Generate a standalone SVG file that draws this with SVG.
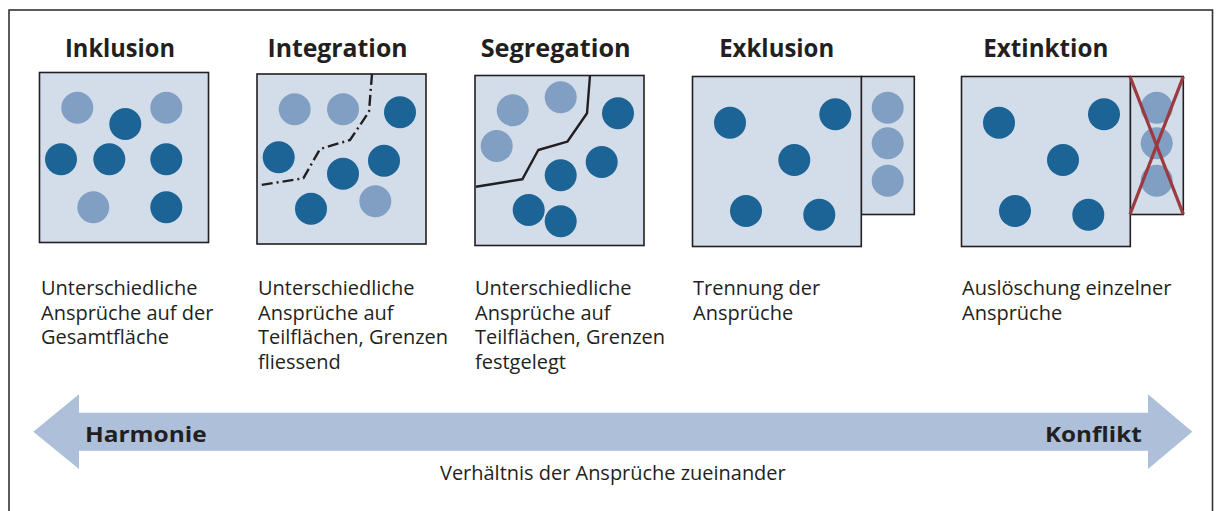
<svg xmlns="http://www.w3.org/2000/svg" width="1219" height="511" viewBox="0 0 1219 511">
<style>
.bg{fill:#ffffff}
.frame{fill:none;stroke:#333333;stroke-width:1.6}
.box{fill:#d3ddea;stroke:#231f20;stroke-width:1.6}
.d{fill:#1c6396}
.l{fill:#819fc3}
.title{font-family:"Open Sans","Noto Sans","Liberation Sans",sans-serif;font-weight:bold;font-size:25px;fill:#231f20;text-anchor:middle}
.desc{font-family:"Open Sans","Noto Sans","Liberation Sans",sans-serif;font-size:20px;fill:#231f20}
.lbl{font-family:"Open Sans","Noto Sans","Liberation Sans",sans-serif;font-weight:bold;font-size:22px;fill:#231f20}
.border{fill:none;stroke:#231f20;stroke-width:2.4;stroke-linejoin:round}
.dashdot{stroke-dasharray:11 4 2 4}
.cross{stroke:#9b3b40;stroke-width:3.2}
.arrow{fill:#adbfd9}
</style>
<rect class="bg" x="0" y="0" width="1219" height="511"/>
<rect class="frame" x="9" y="10" width="1203.5" height="520"/>

<g id="inklusion">
<text class="title" x="120" y="57" textLength="110" lengthAdjust="spacingAndGlyphs">Inklusion</text>
<rect class="box" x="39.5" y="72.5" width="169" height="170"/>
<circle class="l" cx="77.3" cy="107.7" r="16"/>
<circle class="l" cx="166.3" cy="107.7" r="16"/>
<circle class="d" cx="125.3" cy="124" r="16"/>
<circle class="d" cx="61" cy="159.3" r="16"/>
<circle class="d" cx="109.3" cy="159.3" r="16"/>
<circle class="d" cx="166.3" cy="159.3" r="16"/>
<circle class="l" cx="93.3" cy="207.3" r="16"/>
<circle class="d" cx="166.3" cy="207.3" r="16"/>
<text class="desc" x="41" y="295">Unterschiedliche</text>
<text class="desc" x="41" y="319.5">Ansprüche auf der</text>
<text class="desc" x="41" y="344">Gesamtfläche</text>
</g>

<g id="integration">
<text class="title" x="337.5" y="57" textLength="140" lengthAdjust="spacingAndGlyphs">Integration</text>
<rect class="box" x="257" y="74" width="169" height="170"/>
<circle class="l" cx="294.7" cy="109.3" r="16"/>
<circle class="l" cx="343" cy="109.3" r="16"/>
<circle class="d" cx="400" cy="112.3" r="16"/>
<circle class="d" cx="278.7" cy="157.3" r="16"/>
<circle class="d" cx="384" cy="160.7" r="16"/>
<circle class="d" cx="343" cy="173.7" r="16"/>
<circle class="d" cx="311" cy="208.7" r="16"/>
<circle class="l" cx="375.3" cy="201.3" r="16"/>
<text class="desc" x="258" y="295">Unterschiedliche</text>
<text class="desc" x="258" y="319.5">Ansprüche auf</text>
<text class="desc" x="258" y="344">Teilflächen, Grenzen</text>
<text class="desc" x="258" y="368.5">fliessend</text>
</g>

<g id="segregation">
<text class="title" x="555.7" y="57" textLength="150" lengthAdjust="spacingAndGlyphs">Segregation</text>
<rect class="box" x="475" y="75.5" width="169" height="170"/>
<circle class="l" cx="512.7" cy="110.3" r="16"/>
<circle class="l" cx="560.7" cy="97.3" r="16"/>
<circle class="l" cx="496.7" cy="146" r="16"/>
<circle class="d" cx="618" cy="113.3" r="16"/>
<circle class="d" cx="601.7" cy="162" r="16"/>
<circle class="d" cx="560.7" cy="175.3" r="16"/>
<circle class="d" cx="528.7" cy="210" r="16"/>
<circle class="d" cx="560.7" cy="221.3" r="16"/>
<text class="desc" x="475" y="295">Unterschiedliche</text>
<text class="desc" x="475" y="319.5">Ansprüche auf</text>
<text class="desc" x="475" y="344">Teilflächen, Grenzen</text>
<text class="desc" x="475" y="368.5">festgelegt</text>
</g>

<g id="exklusion">
<text class="title" x="776.7" y="57" textLength="115" lengthAdjust="spacingAndGlyphs">Exklusion</text>
<rect class="box" x="861.3" y="76.5" width="53" height="138"/>
<rect class="box" x="692.5" y="76.5" width="168.8" height="170"/>
<circle class="d" cx="730" cy="122.7" r="16"/>
<circle class="d" cx="835.3" cy="114.3" r="16"/>
<circle class="d" cx="794.3" cy="160" r="16"/>
<circle class="d" cx="746" cy="211" r="16"/>
<circle class="d" cx="819.3" cy="214.7" r="16"/>
<circle class="l" cx="887.7" cy="107.7" r="16"/>
<circle class="l" cx="887.7" cy="143.3" r="16"/>
<circle class="l" cx="887.7" cy="180.7" r="16"/>
<text class="desc" x="693" y="295">Trennung der</text>
<text class="desc" x="693" y="319.5">Ansprüche</text>
</g>

<g id="extinktion">
<text class="title" x="1045.8" y="57" textLength="125" lengthAdjust="spacingAndGlyphs">Extinktion</text>
<rect class="box" x="1130.3" y="76.5" width="53" height="138"/>
<rect class="box" x="961.5" y="76.5" width="168.8" height="170"/>
<circle class="d" cx="999" cy="122.7" r="16"/>
<circle class="d" cx="1104" cy="114.3" r="16"/>
<circle class="d" cx="1063" cy="160" r="16"/>
<circle class="d" cx="1015" cy="211" r="16"/>
<circle class="d" cx="1088.3" cy="214.7" r="16"/>
<circle class="l" cx="1156.7" cy="107.7" r="16"/>
<circle class="l" cx="1156.7" cy="143.3" r="16"/>
<circle class="l" cx="1156.7" cy="180.7" r="16"/>
<line class="cross" x1="1130" y1="76.7" x2="1183.3" y2="214.3"/>
<line class="cross" x1="1183.3" y1="76.7" x2="1130" y2="214.3"/>
<text class="desc" x="962" y="295">Auslöschung einzelner</text>
<text class="desc" x="962" y="319.5">Ansprüche</text>
</g>

<g id="connectors">
<polyline class="border dashdot" points="372,74 369,111.7 350,140 320,149 303.3,178.3 261,185"/>
<polyline class="border" points="590,75.5 587,113.3 567.3,141.7 538.3,150 522.3,179.3 476,186.7"/>
</g>

<g id="axis">
<polygon class="arrow" points="33.3,431.7 79,394.3 79,412.7 1148,412.7 1148,394.3 1192.3,431.7 1148,469 1148,450.7 79,450.7 79,469"/>
<text class="lbl" x="85" y="441.7" textLength="121.7" lengthAdjust="spacingAndGlyphs">Harmonie</text>
<text class="lbl" x="1045" y="441.7" textLength="96.7" lengthAdjust="spacingAndGlyphs">Konflikt</text>
<text class="desc" x="440" y="480" textLength="345.7" lengthAdjust="spacingAndGlyphs">Verhältnis der Ansprüche zueinander</text>
</g>
</svg>
